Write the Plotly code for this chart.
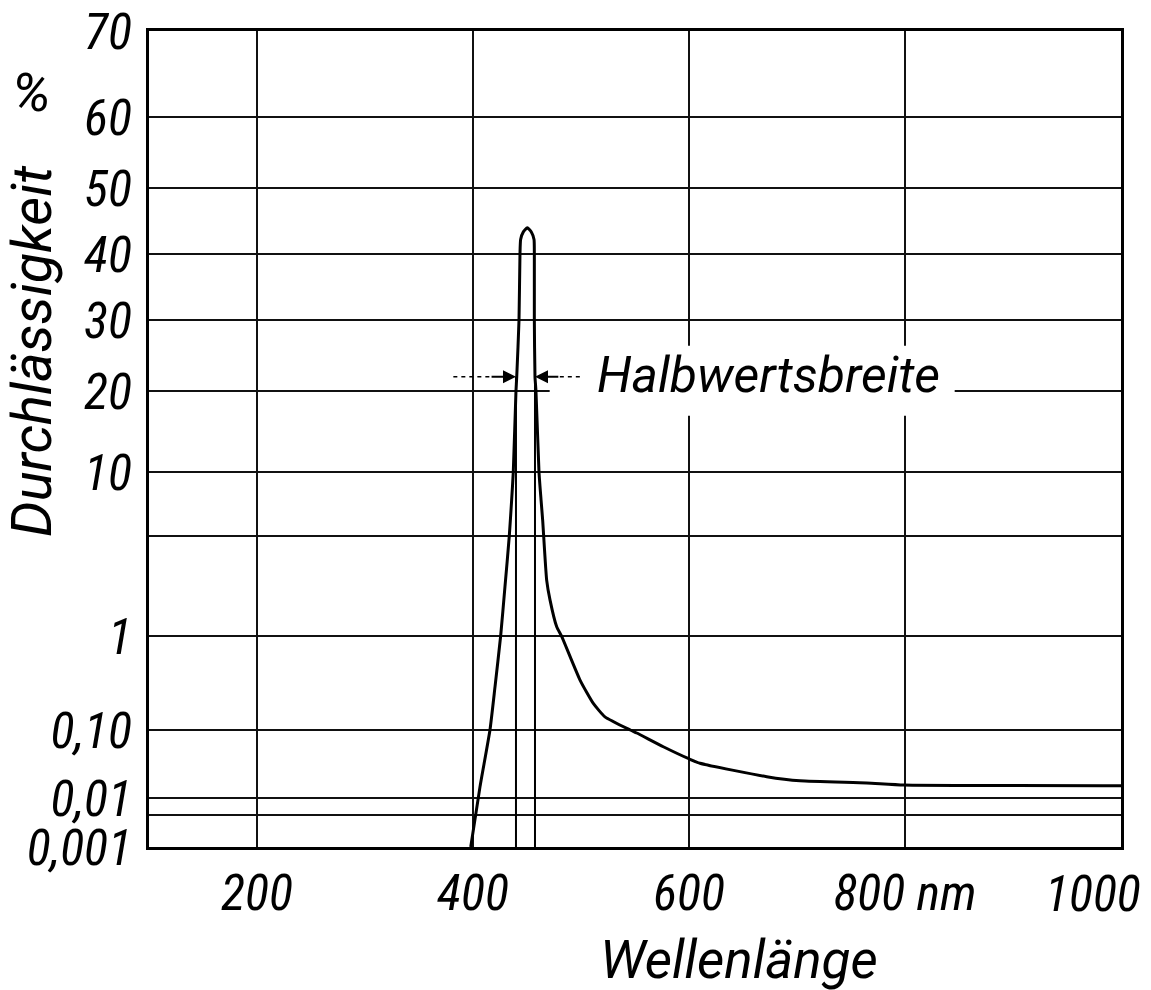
import numpy as np
import plotly.graph_objects as go

# ---- data ----
WAVELENGTH_NM = [397.9, 406.5, 415.7, 420.4, 425.6, 429.6, 433.6, 435.8, 437.3, 439.8,
                 440.5, 442.6, 443.5, 444.1, 446.6, 450.3, 454.0, 456.5, 456.8, 456.8,
                 457.4, 458.3, 461.1, 463.0, 464.5, 468.2, 471.3, 477.5, 482.1, 499.1,
                 511.4, 522.2, 545.6, 551.6, 576.2, 600.3, 610.2, 672.0, 702.8, 764.5,
                 799.0, 1000.0]
TRANSMISSION_PCT = [0.001, 0.0147, 0.1, 0.289, 1.0, 2.21, 5.0, 7.4, 10.0, 20.0,
                    21.7, 30.0, 40.0, 42.0, 43.1, 43.7, 43.1, 42.0, 40.0, 30.0,
                    21.7, 20.0, 10.0, 7.4, 5.94, 2.46, 1.79, 1.16, 0.99, 0.34,
                    0.192, 0.138, 0.1, 0.0903, 0.0567, 0.0375, 0.0324, 0.0206, 0.0179, 0.0166,
                    0.0155, 0.0152]

HALF_WIDTH_NM = [439.8, 457.4]      # Halbwertsbreite markers
HALF_LEVEL_PCT = 21.7

X_TICK_VALUES = [200, 400, 600, 800, 1000]
X_TICK_TEXT = ["200", "400", "600", "800 nm", "1000"]

Y_TICK_VALUES = [0.001, 0.005, 0.01, 0.1, 1, 5, 10, 20, 30, 40, 50, 60, 70]
Y_TICK_TEXT = ["0,001", "", "0,01", "0,10", "1", "", "10", "20", "30", "40", "50", "60", "70"]
# calibration of the printed (non-uniform) ordinate scale, in axis units
Y_SCALE_POS = [0, 32, 49, 117, 211, 311, 375, 456, 527, 593, 659, 730, 816]


def to_axis(v):
    return np.interp(np.log10(np.asarray(v, dtype=float)),
                     np.log10(Y_TICK_VALUES), Y_SCALE_POS)


FONT = "Roboto"
NUM_FONT = "Liberation Sans Narrow, Roboto Condensed, Roboto"
NUM_SIZE = 50
fig = go.Figure()

# white patch behind the label (hides grid lines like in the original)
lab_x0, lab_x1 = 471, 846
yh = float(to_axis(HALF_LEVEL_PCT))
fig.add_shape(type="rect", xref="x", yref="y", layer="between",
              x0=lab_x0, x1=lab_x1, y0=yh - 39, y1=yh + 31,
              fillcolor="white", line=dict(width=0))

# main curve
fig.add_trace(go.Scatter(x=WAVELENGTH_NM, y=to_axis(TRANSMISSION_PCT), mode="lines",
                         line=dict(color="black", width=3, shape="spline", smoothing=0.5),
                         showlegend=False, hoverinfo="skip"))

# half-width marker lines
for xm in HALF_WIDTH_NM:
    fig.add_trace(go.Scatter(x=[xm, xm], y=to_axis([Y_TICK_VALUES[0], HALF_LEVEL_PCT]),
                             mode="lines", line=dict(color="black", width=2),
                             showlegend=False, hoverinfo="skip"))

left, right = HALF_WIDTH_NM
# dashed tails of arrows
fig.add_trace(go.Scatter(x=[left - 58, left - 24], y=[yh, yh], mode="lines",
                         line=dict(color="black", width=1.5, dash="4px,4px"),
                         showlegend=False, hoverinfo="skip"))
fig.add_trace(go.Scatter(x=[right + 23, right + 42], y=[yh, yh], mode="lines",
                         line=dict(color="black", width=1.5, dash="4px,4px"),
                         showlegend=False, hoverinfo="skip"))

annotations = [
    dict(x=left, y=yh, ax=left - 24, ay=yh, xref="x", yref="y", axref="x", ayref="y",
         text="", showarrow=True, arrowhead=2, arrowsize=1.3, arrowwidth=2, arrowcolor="black"),
    dict(x=right, y=yh, ax=right + 23, ay=yh, xref="x", yref="y", axref="x", ayref="y",
         text="", showarrow=True, arrowhead=2, arrowsize=1.3, arrowwidth=2, arrowcolor="black"),
    dict(x=513, y=yh + 2, xref="x", yref="y", xanchor="left", yanchor="middle",
         text="Halbwertsbreite", showarrow=False,
         font=dict(family=FONT, size=50, style="italic", color="black")),
    dict(x=-0.1204, y=0.6078, xref="paper", yref="paper", xanchor="center", yanchor="middle",
         text="Durchlässigkeit", textangle=-90, showarrow=False,
         font=dict(family=FONT, size=56, style="italic", color="black")),
    dict(x=-0.1214, y=0.925, xref="paper", yref="paper", xanchor="center", yanchor="middle",
         text="%", showarrow=False,
         font=dict(family=FONT, size=54, style="italic", color="black")),
    dict(x=0.607, y=-0.138, xref="paper", yref="paper", xanchor="center", yanchor="middle",
         text="Wellenlänge", showarrow=False,
         font=dict(family=FONT, size=53, style="italic", color="black")),
    # last abscissa label sits left of its grid line in the original
    dict(x=X_TICK_VALUES[-1], y=0, xref="x", yref="paper", xanchor="right", yanchor="top",
         xshift=22, yshift=-16, text=X_TICK_TEXT[-1], showarrow=False,
         font=dict(family=NUM_FONT, size=NUM_SIZE, style="italic", color="black")),
]

fig.update_layout(
    width=1151, height=990,
    margin=dict(l=149, r=30, t=31, b=143),
    paper_bgcolor="white", plot_bgcolor="white",
    font=dict(family=FONT, style="italic", color="black"),
    annotations=annotations,
    showlegend=False,
)
fig.update_xaxes(range=[100, 1000], tickvals=X_TICK_VALUES,
                 ticktext=X_TICK_TEXT[:-1] + [""],
                 tickfont=dict(family=NUM_FONT, size=NUM_SIZE, style="italic", color="black"),
                 showgrid=True, gridcolor="#111", gridwidth=1.6, zeroline=False,
                 showline=True, mirror=True, linecolor="black", linewidth=3,
                 ticks="", ticklen=0, ticklabelstandoff=0, ticklabeloverflow="allow",
                 automargin=False)
fig.update_yaxes(range=[0, 816], tickvals=list(to_axis(Y_TICK_VALUES)), ticktext=Y_TICK_TEXT,
                 tickfont=dict(family=NUM_FONT, size=NUM_SIZE, style="italic", color="black"),
                 showgrid=True, gridcolor="#111", gridwidth=1.6, zeroline=False,
                 showline=True, mirror=True, linecolor="black", linewidth=3,
                 ticks="", ticklen=0, ticklabelstandoff=4, ticklabeloverflow="allow",
                 automargin=False)

fig.write_html("out.html")
